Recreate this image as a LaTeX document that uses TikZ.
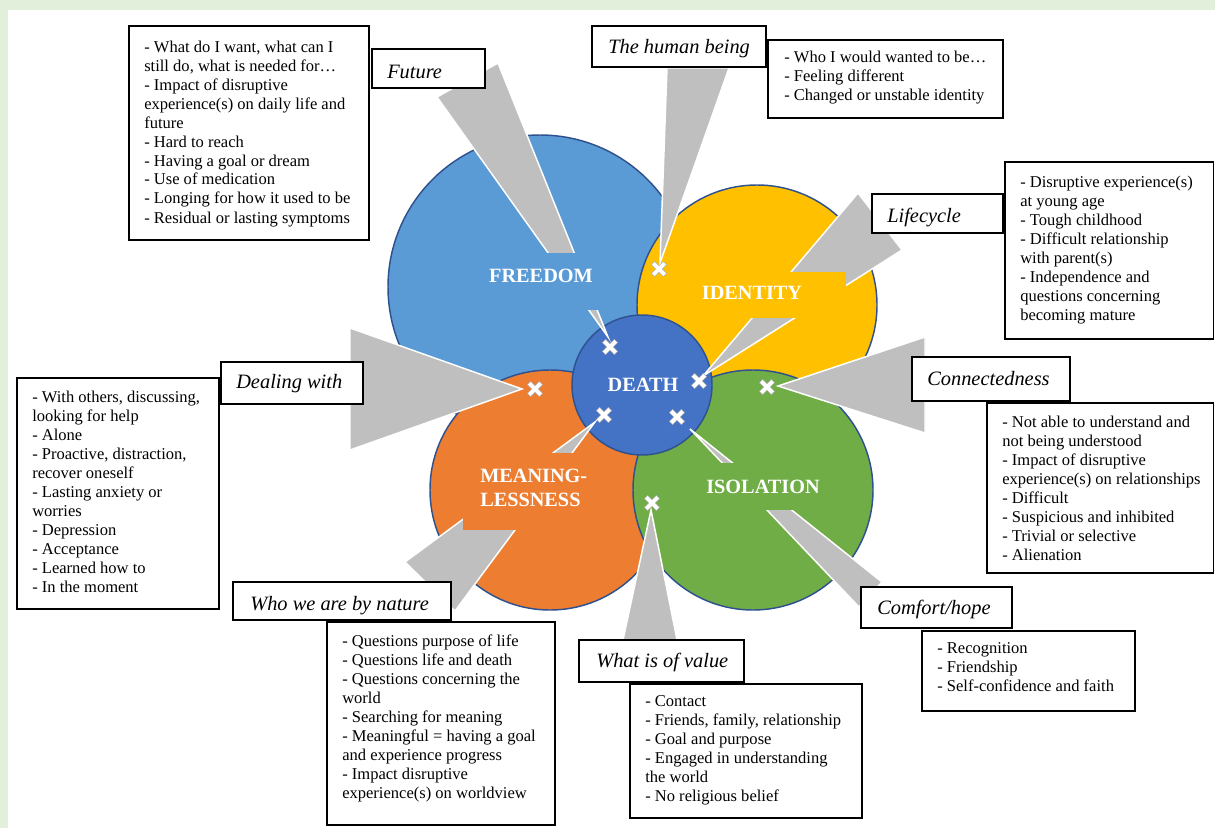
\documentclass[tikz,border=0pt]{standalone}
\usepackage{fontspec}
\setmainfont{Liberation Serif}
\definecolor{bgg}{HTML}{E2EFDA}
\definecolor{cfree}{HTML}{5B9BD5}
\definecolor{cid}{HTML}{FFC000}
\definecolor{cmean}{HTML}{ED7D31}
\definecolor{ciso}{HTML}{70AD47}
\definecolor{cdeath}{HTML}{4472C4}
\definecolor{cline}{HTML}{2F528F}
\definecolor{cwedge}{HTML}{BFBFBF}
\tikzset{
  circ/.style={circle, inner sep=0pt, outer sep=0pt, draw=cline, line width=1.1pt},
  wedgeshape/.style={fill=cwedge, draw=white, line width=1.1pt, line join=miter},
  cattext/.style={text=white, font=\fontsize{15.2}{18}\selectfont\bfseries, inner sep=0pt},
  lbox/.style={draw=black, fill=white, line width=0.9pt},
  ltext/.style={font=\fontsize{15.3}{18}\selectfont\itshape, inner sep=0pt, anchor=base west},
  cbox/.style={draw=black, fill=white, line width=0.8pt},
  ctext/.style={font=\fontsize{12.4}{14.25}\selectfont, inner sep=0pt, anchor=base west},
  xm/.pic={
    \draw[black!30, line width=3.9pt] (-4.6pt,-4.6pt) -- (4.6pt,4.6pt) (-4.6pt,4.6pt) -- (4.6pt,-4.6pt);
    \draw[white, line width=2.8pt] (-4.3pt,-4.3pt) -- (4.3pt,4.3pt) (-4.3pt,4.3pt) -- (4.3pt,-4.3pt);
  }
}
\newcommand{\lines}[1]{\parbox[t]{320pt}{#1}}
\begin{document}
\begin{tikzpicture}[x=0.75pt, y=-0.75pt]
\useasboundingbox (0,0) rectangle (1215,828);
\fill[bgg] (0,0) rectangle (1215,828);
\fill[white] (8,10) rectangle (1215,828);

% circles
\node[circ, fill=cfree, minimum size=228pt] (freedom) at (540,287) {};
\node[circ, fill=cid, minimum size=180pt] (identity) at (757,305) {};
\node[circ, fill=cmean, minimum size=180pt] (meaning) at (550,490) {};
\node[circ, fill=ciso, minimum size=180pt] (isolation) at (753,490) {};
\node[circ, fill=cdeath, minimum size=105pt] (death) at (642,385) {};

% wedges
\path[wedgeshape] (437,97) -- (498,63) -- (608,337) -- cycle;
\path[wedgeshape] (667,68) -- (729,68) -- (660,263) -- cycle;
\path[wedgeshape] (858,193) -- (902,250) -- (703,376) -- cycle;
\path[wedgeshape] (350,328) -- (350,450) -- (522,389) -- cycle;
\path[wedgeshape] (925,337) -- (925,433) -- (778,386) -- cycle;
\path[wedgeshape] (882,582) -- (859,607) -- (690,429) -- cycle;
\path[wedgeshape] (623,640) -- (677,640) -- (651,510) -- cycle;
\path[wedgeshape] (405,562) -- (455,611) -- (595,422) -- cycle;

% category labels
\fill[cfree] (468,253) rectangle (614,310);
\node[cattext, anchor=base] (tfree) at (541,282) {FREEDOM};
\fill[cid] (680,272) rectangle (846,318);
\node[cattext, anchor=base] (tid) at (752,299) {IDENTITY};
\node[cattext, anchor=base] (tdeath) at (643,391) {DEATH};
\fill[cmean] (463,453) rectangle (600,530);
\node[cattext, anchor=base west] (tmean1) at (480,482) {MEANING-};
\node[cattext, anchor=base west] (tmean2) at (480,506) {LESSNESS};
\fill[ciso] (700,463) rectangle (830,510);
\node[cattext, anchor=base] (tiso) at (763,493) {ISOLATION};

% markers
\pic at (610,347) {xm};
\pic at (659,269) {xm};
\pic at (699,381) {xm};
\pic at (535,389) {xm};
\pic at (767,387) {xm};
\pic at (604,415) {xm};
\pic at (677,417) {xm};
\pic at (652,503) {xm};

% label boxes
\draw[lbox] (372,49) rectangle (485,88);
\node[ltext] (lfuture) at (387,78) {Future};
\draw[lbox] (592,26) rectangle (766,67);
\node[ltext] (lhuman) at (608,53) {The human being};
\draw[lbox] (872,194) rectangle (1003,233);
\node[ltext] (llife) at (887,222) {Lifecycle};
\draw[lbox] (912,357) rectangle (1070,401);
\node[ltext] (lconn) at (927,385) {Connectedness};
\draw[lbox] (221,362) rectangle (363,404);
\node[ltext] (ldeal) at (236,388) {Dealing with};
\draw[lbox] (233,582) rectangle (451,620);
\node[ltext] (lwho) at (250,610) {Who we are by nature};
\draw[lbox] (579,640) rectangle (744,682);
\node[ltext] (lvalue) at (596,667) {What is of value};
\draw[lbox] (861,587) rectangle (1012,628);
\node[ltext] (lcomf) at (877,614) {Comfort/hope};

% content boxes
\draw[cbox] (129,26) rectangle (369,240);
\node[ctext] (nfree) at (144,52) {\lines{- What do I want, what can I\\still do, what is needed for…\\- Impact of disruptive\\experience(s) on daily life and\\future\\- Hard to reach\\- Having a goal or dream\\- Use of medication\\- Longing for how it used to be\\- Residual or lasting symptoms}};

\draw[cbox] (768,40) rectangle (1003,118);
\node[ctext] (nid) at (784,62) {\lines{- Who I would wanted to be…\\- Feeling different\\- Changed or unstable identity}};

\draw[cbox] (1005,162) rectangle (1213.5,339);
\node[ctext] (nlife) at (1020,187) {\lines{- Disruptive experience(s)\\at young age\\- Tough childhood\\- Difficult relationship\\with parent(s)\\- Independence and\\questions concerning\\becoming mature}};

\draw[cbox] (987,403) rectangle (1213.5,573);
\node[ctext] (nconn) at (1002,427) {\lines{- Not able to understand and\\not being understood\\- Impact of disruptive\\experience(s) on relationships\\- Difficult\\- Suspicious and inhibited\\- Trivial or selective\\- Alienation}};

\draw[cbox] (922,631) rectangle (1135,711);
\node[ctext] (ncomf) at (937,653) {\lines{- Recognition\\- Friendship\\- Self-confidence and faith}};

\draw[cbox] (17,378) rectangle (219,609);
\node[ctext] (ndeal) at (32,402) {\lines{- With others, discussing,\\looking for help\\- Alone\\- Proactive, distraction,\\recover oneself\\- Lasting anxiety or\\worries\\- Depression\\- Acceptance\\- Learned how to\\- In the moment}};

\draw[cbox] (327,622) rectangle (555,825);
\node[ctext] (nwho) at (342,646) {\lines{- Questions purpose of life\\- Questions life and death\\- Questions concerning the\\world\\- Searching for meaning\\- Meaningful = having a goal\\and experience progress\\- Impact disruptive\\experience(s) on worldview}};

\draw[cbox] (630,684) rectangle (862,818);
\node[ctext] (nvalue) at (645,706) {\lines{- Contact\\- Friends, family, relationship\\- Goal and purpose\\- Engaged in understanding\\the world\\- No religious belief}};
\end{tikzpicture}
\end{document}
